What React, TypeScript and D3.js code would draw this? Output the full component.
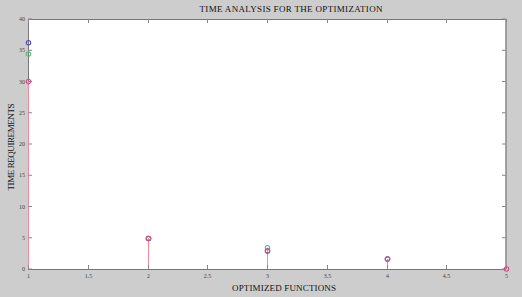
import React from "react";
import * as d3 from "d3";

const categories = [1, 2, 3, 4, 5];
const seriesBlue = [36.2, 4.9, 2.9, 1.6];
const seriesGreen = [34.4, 4.9, 3.4, 1.6];
const seriesRed = [30, 4.9, 2.9, 1.6, 0];
const xTicks = [1, 1.5, 2, 2.5, 3, 3.5, 4, 4.5, 5];
const yTicks = [0, 5, 10, 15, 20, 25, 30, 35, 40];

const W = 522, H = 297;
const L = 28, R = 506, T = 19, B = 269;

export default function App() {
  const xs = d3.scaleLinear().domain([1, 5]).range([L, R]);
  const x = (v: number) => Math.round(xs(v)) + 0.5;
  const y = d3.scaleLinear().domain([0, 40]).range([B, T]);
  const series = [
    { vals: seriesBlue, stem: "#7a7aff", mark: "#4a4ad0" },
    { vals: seriesGreen, stem: "#7fd39a", mark: "#55bb77" },
    { vals: seriesRed, stem: "#f4889c", mark: "#d84a86" },
  ];
  const tl = 4;
  return (
    <svg width={W} height={H} style={{ position: "absolute", left: 0, top: 0 }}>
      <rect x={0} y={0} width={W} height={H} fill="#cdcdcd" />
      <rect x={L} y={T} width={R - L} height={B - T} fill="#ffffff" />
      {series.map((s, si) => (
        <g key={si}>
          {s.vals.map((v, i) => (
            <line key={i} x1={x(categories[i])} x2={x(categories[i])} y1={y(0)} y2={y(v)} stroke={s.stem} strokeWidth={1} />
          ))}
        </g>
      ))}
      <line x1={L} x2={R} y1={B + 0.5} y2={B + 0.5} stroke="#777" strokeWidth={1} />
      <line x1={L} x2={R} y1={T + 0.5} y2={T + 0.5} stroke="#777" strokeWidth={1} />
      <line x1={R} x2={R} y1={T} y2={B} stroke="#888" strokeWidth={1.5} />
      <line x1={L + 0.5} x2={L + 0.5} y1={T} y2={y(seriesRed[0])} stroke="#777" strokeWidth={1} />
      {xTicks.map((t) => (
        <g key={"x" + t}>
          <line x1={x(t)} x2={x(t)} y1={B} y2={B - tl} stroke="#888" />
          <line x1={x(t)} x2={x(t)} y1={T} y2={T + tl} stroke="#888" />
          <text x={x(t)} y={B + 9} fontSize={6} textAnchor="middle" fontFamily="Liberation Serif, serif" fill="#444">{t}</text>
        </g>
      ))}
      {yTicks.map((t) => (
        <g key={"y" + t}>
          <line x1={L} x2={L + tl} y1={y(t)} y2={y(t)} stroke="#888" />
          <line x1={R} x2={R - tl} y1={y(t)} y2={y(t)} stroke="#888" />
          <text x={L - 3} y={y(t) + 2} fontSize={6} textAnchor="end" fontFamily="Liberation Serif, serif" fill="#444">{t}</text>
        </g>
      ))}
      {series.map((s, si) => (
        <g key={"m" + si}>
          {s.vals.map((v, i) => (
            <circle key={i} cx={x(categories[i])} cy={y(v)} r={2.2} fill="none" stroke={s.mark} strokeWidth={1.1} />
          ))}
        </g>
      ))}
      <text x={291} y={12} fontSize={9} textAnchor="middle" fontFamily="Liberation Serif, serif" fill="#111" textLength={183}>TIME ANALYSIS FOR THE OPTIMIZATION</text>
      <text x={284} y={291} fontSize={9} textAnchor="middle" fontFamily="Liberation Serif, serif" fill="#111" textLength={104}>OPTIMIZED FUNCTIONS</text>
      <text transform={`translate(14,147) rotate(-90)`} fontSize={9} textAnchor="middle" fontFamily="Liberation Serif, serif" fill="#111" textLength={87}>TIME REQUIREMENTS</text>
    </svg>
  );
}
